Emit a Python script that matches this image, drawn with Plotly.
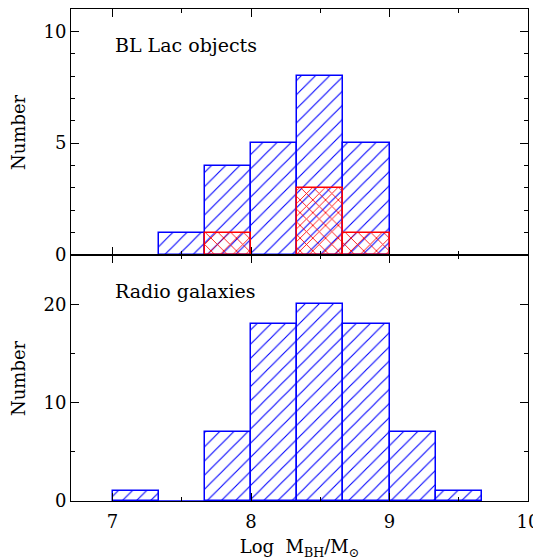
import plotly.graph_objects as go
from plotly.subplots import make_subplots

# ---- data ----
bin_edges = [7.0, 7.333, 7.667, 8.0, 8.333, 8.667, 9.0, 9.333, 9.667]
bl_lac_all = [0, 1, 4, 5, 8, 5, 0, 0]
bl_lac_sub = [0, 0, 1, 0, 3, 1, 0, 0]
radio_gal = [1, 0, 7, 18, 20, 18, 7, 1]

FONT = "DejaVu Serif"
BLUE = "#0000ff"
RED = "#ff0000"

centers = [(bin_edges[i] + bin_edges[i + 1]) / 2 for i in range(len(bin_edges) - 1)]
widths = [bin_edges[i + 1] - bin_edges[i] for i in range(len(bin_edges) - 1)]

fig = make_subplots(rows=2, cols=1, shared_xaxes=True, vertical_spacing=0)


def hist_bars(counts, color, shape, size, solidity, row):
    xs = [c for c, n in zip(centers, counts) if n > 0]
    ws = [w for w, n in zip(widths, counts) if n > 0]
    ys = [n for n in counts if n > 0]
    fig.add_trace(
        go.Bar(
            x=xs, y=ys, width=ws,
            marker=dict(
                color="rgba(0,0,0,0)",
                line=dict(color=color, width=1.5),
                pattern=dict(shape=shape, fgcolor=color, bgcolor="rgba(0,0,0,0)",
                             size=size, solidity=solidity, fillmode="replace"),
            ),
            showlegend=False, hoverinfo="skip",
        ),
        row=row, col=1,
    )


hist_bars(bl_lac_all, BLUE, "/", 10, 0.11, 1)
hist_bars(bl_lac_sub, RED, "x", 9, 0.18, 1)
hist_bars(radio_gal, BLUE, "/", 10, 0.11, 2)

# zero-count bins inside the radio galaxy histogram drawn as a baseline segment
zx, zy = [], []
first = next(i for i, n in enumerate(radio_gal) if n > 0)
last = max(i for i, n in enumerate(radio_gal) if n > 0)
for i in range(first, last + 1):
    if radio_gal[i] == 0:
        zx += [bin_edges[i], bin_edges[i + 1], None]
        zy += [0, 0, None]
fig.add_trace(go.Scatter(x=zx, y=zy, mode="lines", line=dict(color=BLUE, width=1.5),
                         showlegend=False, hoverinfo="skip", cliponaxis=False), row=2, col=1)

axis_common = dict(
    showline=True, linecolor="black", linewidth=1.1, mirror="ticks",
    ticks="inside", ticklen=8, tickwidth=1, tickcolor="black",
    showgrid=False, zeroline=False, automargin=False,
    tickfont=dict(family=FONT, size=18, color="black"),
)

fig.update_xaxes(**axis_common, range=[6.7, 10], dtick=1, tick0=7,
                 minor=dict(dtick=0.5, ticklen=4, ticks="inside", tickcolor="black", showgrid=False))
fig.update_xaxes(showticklabels=False, row=1, col=1)
fig.update_xaxes(
    ticklabelstandoff=4,
    title=dict(text="Log  M<sub>BH</sub>/M<sub>⊙</sub>", font=dict(family=FONT, size=18, color="black"),
               standoff=14),
    row=2, col=1,
)

fig.update_yaxes(**axis_common)
fig.update_yaxes(range=[0, 11], dtick=5, tick0=0,
                 minor=dict(dtick=1, ticklen=4, ticks="inside", tickcolor="black", showgrid=False),
                 row=1, col=1)
fig.update_yaxes(range=[0, 25], dtick=10, tick0=0,
                 minor=dict(dtick=5, ticklen=4, ticks="inside", tickcolor="black", showgrid=False),
                 row=2, col=1)

# y-axis titles as rotated annotations
for yref in ("y domain", "y2 domain"):
    fig.add_annotation(x=0, y=0.5, xref="x domain", yref=yref, text="Number", showarrow=False,
                       textangle=-90, xanchor="center", yanchor="middle", xshift=-53,
                       font=dict(family=FONT, size=18, color="black"))

fig.add_annotation(x=7.0, y=9.4, xref="x", yref="y", text="BL Lac objects", showarrow=False,
                   xanchor="left", yanchor="middle", font=dict(family=FONT, size=19, color="black"))
fig.add_annotation(x=7.0, y=21.3, xref="x2", yref="y2", text="Radio galaxies", showarrow=False,
                   xanchor="left", yanchor="middle", font=dict(family=FONT, size=19, color="black"))

# the page body adds an 8px offset; the figure is sized to fit the remaining window
fig.update_layout(
    width=533, height=552,
    margin=dict(l=63, r=13, t=1, b=59, autoexpand=False),
    barmode="overlay", bargap=0,
    plot_bgcolor="white", paper_bgcolor="white",
    font=dict(family=FONT, color="black"),
)

fig.write_html("out.html")
